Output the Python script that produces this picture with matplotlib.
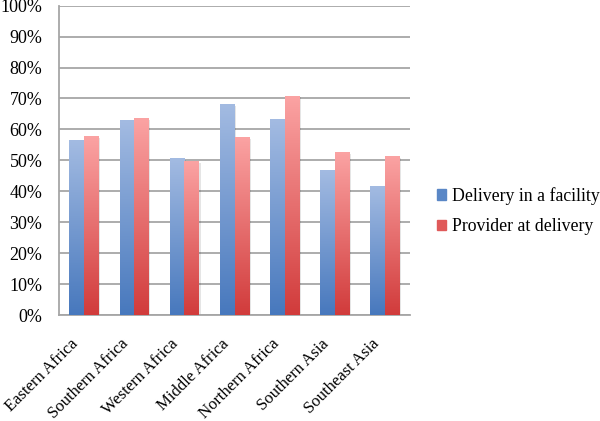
import matplotlib

matplotlib.use("Agg")

import matplotlib.pyplot as plt
import matplotlib.transforms as mtransforms
import numpy as np
from matplotlib.colors import LinearSegmentedColormap
from matplotlib.patches import Rectangle

regions = ["Eastern Africa", "Southern Africa", "Western Africa", "Middle Africa",
           "Northern Africa", "Southern Asia", "Southeast Asia"]
facility = [56.5, 63.0, 50.6, 68.0, 63.3, 46.6, 41.4]
provider = [57.6, 63.5, 49.7, 57.4, 70.8, 52.4, 51.1]
series_names = ["Delivery in a facility", "Provider at delivery"]

plt.rcParams["font.family"] = ["Liberation Serif", "DejaVu Serif"]

blue_cmap = LinearSegmentedColormap.from_list("b", ["#4778bd", "#a3bbe2"])
red_cmap = LinearSegmentedColormap.from_list("r", ["#d13b3b", "#fba3a3"])

fig = plt.figure(figsize=(6.0, 4.21), dpi=100)
ax = fig.add_axes([59 / 600, 1 - 315 / 421, (410 - 59) / 600, (315 - 5.7) / 421])

x = np.arange(len(regions))
w = 0.293
grad = np.linspace(0, 1, 256).reshape(-1, 1)

for vals, cmap, off in [(facility, blue_cmap, -w), (provider, red_cmap, 0.0)]:
    for xi, v in zip(x, vals):
        x0 = xi + off
        # soft shadow
        ax.add_patch(Rectangle((x0 + 0.03, 0), w, v - 0.4, color="#000000",
                               alpha=0.10, lw=0, zorder=2))
        ax.imshow(grad, cmap=cmap, origin="lower", aspect="auto",
                  extent=[x0, x0 + w, 0, v], zorder=3)

ax.set_xlim(-0.5, len(regions) - 0.5)
ax.set_ylim(0, 100)
ax.set_yticks(np.arange(0, 101, 10))
ax.set_yticklabels([f"{t}%" for t in range(0, 101, 10)], fontsize=13)
ax.set_xticks(x)
ax.set_xticklabels(regions, rotation=45, ha="right", rotation_mode="anchor", fontsize=12)
ax.tick_params(length=0)
ax.tick_params(axis="y", pad=12)
ax.tick_params(axis="x", pad=15)
shift = mtransforms.ScaledTranslation(-10 / 72, 0, fig.dpi_scale_trans)
for lbl in ax.get_xticklabels():
    lbl.set_transform(lbl.get_transform() + shift)
ax.yaxis.grid(True, color="#a6a6a6", lw=1.3)
ax.set_axisbelow(True)
for s in ["top", "right"]:
    ax.spines[s].set_visible(False)
for s in ["left", "bottom"]:
    ax.spines[s].set_color("#a6a6a6")
    ax.spines[s].set_linewidth(1.3)

handles = [Rectangle((0, 0), 1, 1, color="#5a87c6"), Rectangle((0, 0), 1, 1, color="#e05a5a")]
fig.legend(handles, series_names, loc="center left", bbox_to_anchor=(437 / 600, 1 - 211 / 421),
           frameon=False, fontsize=12.8, handlelength=0.5, handleheight=0.5,
           handletextpad=0.35, labelspacing=0.75, borderpad=0, borderaxespad=0)

fig.savefig("out.png", dpi=100)
